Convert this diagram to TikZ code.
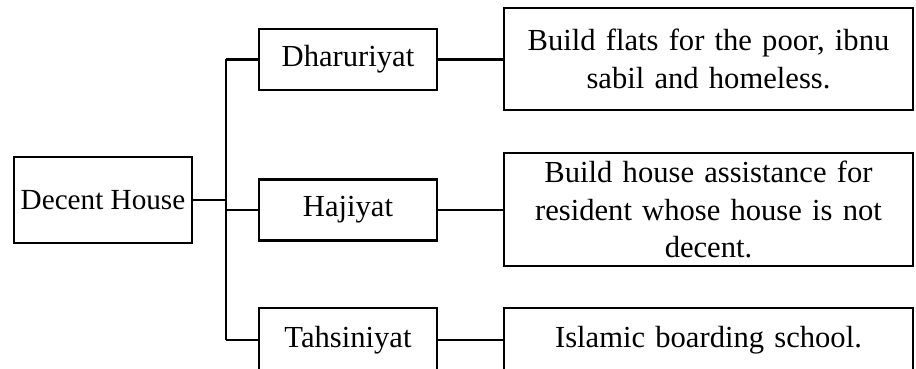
\documentclass[tikz,border=0pt]{standalone}
\usepackage{fontspec}
\setmainfont{Liberation Serif}
\usepackage{tikz}
\usetikzlibrary{positioning}

\begin{document}
\begin{tikzpicture}[x=0.5pt,y=-0.5pt,
	box node/.style={rectangle,draw,line width=1.1pt,inner sep=0pt,align=center,
		font=\fontsize{15.3}{18.8}\selectfont},
	level node/.style={box node,minimum width=89pt,minimum height=30.5pt},
	plan node/.style={box node,minimum width=204.5pt,text width=200pt},
	link/.style={line width=1.4pt}]
	
	\useasboundingbox (0,0) rectangle (916,369);
	
	\node[box node, minimum width=89pt, minimum height=43pt,
		font=\fontsize{14.6}{17}\selectfont] (house) at (103,200) {Decent House};
	
	\node[level node] (dhar) at (348,59.5) {Dharuriyat};
	\node[level node] (haji) at (348,210) {Hajiyat};
	\node[level node, minimum height=32pt] (tahs) at (348,340) {Tahsiniyat};
	
	\node[plan node, minimum height=51pt] (flats) at (708.5,59) {Build flats for the poor, ibnu\\ sabil and homeless.};
	\node[plan node, minimum height=56.5pt] (assist) at (708.5,209.5) {Build house assistance for\\ resident whose house is not\\ decent.};
	\node[plan node, minimum height=32pt] (school) at (708.5,340) {Islamic boarding school.};
	
	\coordinate (trunk top) at (226,59.5);
	\coordinate (trunk bot) at (226,340);
	
	\draw[link] (trunk top) -- (trunk bot);
	\draw[link] (house.east) -- (house.east -| trunk top);
	\draw[link] (trunk top) -- (dhar.west);
	\draw[link] (haji.west -| trunk top) -- (haji.west);
	\draw[link] (trunk bot) -- (tahs.west);
	
	\draw[link] (dhar.east) -- (dhar.east -| flats.west);
	\draw[link] (haji.east) -- (haji.east -| assist.west);
	\draw[link] (tahs.east) -- (school.west);
\end{tikzpicture}
\end{document}
